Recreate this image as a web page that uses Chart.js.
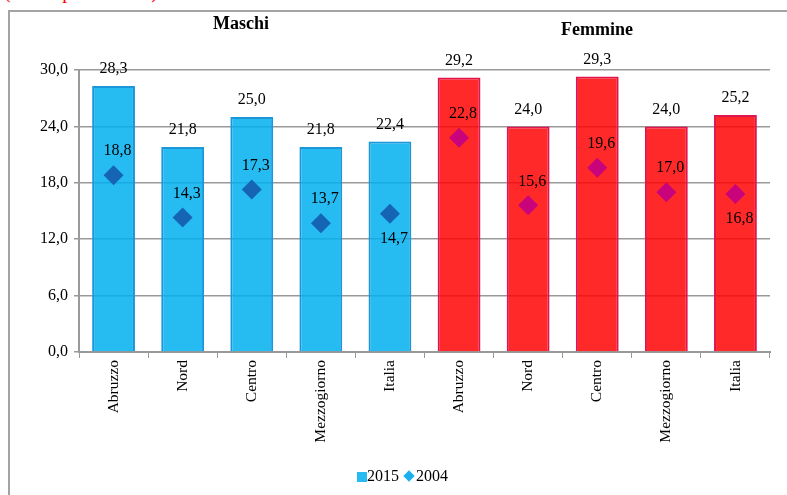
<!DOCTYPE html>
<html>
<head>
<meta charset="utf-8">
<script src="https://cdn.jsdelivr.net/npm/chart.js@4.4.1/dist/chart.umd.min.js"></script>
<style>
  html, body { margin: 0; padding: 0; background: #fff; overflow: hidden; }
  #wrap { position: relative; width: 787px; height: 495px; overflow: hidden; }
  #frame { position: absolute; left: 8px; top: 10px; width: 900px; height: 600px; border: 2px solid #a3a3a3; box-sizing: border-box; }
  #note { position: absolute; left: 4px; top: -20px; color: #f00; font: 20px "Liberation Serif", serif; white-space: nowrap; }
  canvas { position: absolute; left: 0; top: 0; }
  #legend { position: absolute; top: 467px; left: 357px; font: 16px "Liberation Serif", serif; color: #000; white-space: nowrap; }
  #legend span.sq { display: inline-block; width: 10px; height: 10px; background: #26bcf2; vertical-align: -1px; }
  #legend span.dm { display: inline-block; width: 8px; height: 8px; background: #1ab0ef; transform: rotate(45deg); margin: 0 3px 0 6px; vertical-align: 1px; }
</style>
</head>
<body>
<div id="wrap">
  <div id="note">(valori percentuali)</div>
  <div id="frame"></div>
  <canvas id="chart" width="787" height="495"></canvas>
  <div id="legend"><span class="sq"></span>2015<span class="dm"></span>2004</div>
</div>
<script>
//
// Data
//
const categories = ['Abruzzo', 'Nord', 'Centro', 'Mezzogiorno', 'Italia',
                    'Abruzzo', 'Nord', 'Centro', 'Mezzogiorno', 'Italia'];
const values2015 = [28.3, 21.8, 25.0, 21.8, 22.4, 29.2, 24.0, 29.3, 24.0, 25.2];
const values2004 = [18.8, 14.3, 17.3, 13.7, 14.7, 22.8, 15.6, 19.6, 17.0, 16.8];
const groupTitles = ['Maschi', 'Femmine'];
const yTicks = [0, 6, 12, 18, 24, 30];

const fmt = v => v.toFixed(1).replace('.', ',');
const serif = '"Liberation Serif", "Times New Roman", serif';

const barFill = categories.map((c, i) => i < 5 ? 'rgba(0,176,240,0.85)' : 'rgba(255,0,0,0.84)');
const barEdge = categories.map((c, i) => i < 5 ? '#1b97d9' : '#e0144e');
const dotFill = categories.map((c, i) => i < 5 ? '#1565b4' : '#c8037c');

// labels drawn above bars / next to diamonds, plus the two group titles
const labelPlugin = {
    id: 'labels',
    afterDatasetsDraw(chart) {
        const ctx = chart.ctx;
        ctx.save();
        ctx.fillStyle = '#000';
        ctx.font = '16px ' + serif;
        ctx.textAlign = 'center';
        ctx.textBaseline = 'middle';
        chart.getDatasetMeta(0).data.forEach((bar, i) => {
            ctx.fillText(fmt(values2015[i]), bar.x, bar.y - 17);
        });
        chart.getDatasetMeta(1).data.forEach((pt, i) => {
            const below = i === 4 || i === 9;
            ctx.fillText(fmt(values2004[i]), pt.x + 4, below ? pt.y + 25 : pt.y - 24);
        });
        ctx.font = 'bold 18px ' + serif;
        ctx.fillText(groupTitles[0], 241, 24);
        ctx.fillText(groupTitles[1], 597, 30);
        ctx.restore();
    }
};

const chartCanvas = document.getElementById('chart');

let chartData = {
    labels: categories,
    datasets: [{
        type: 'bar',
        label: '2015',
        data: values2015,
        backgroundColor: barFill,
        borderColor: barEdge,
        borderWidth: 2,
        barPercentage: 0.62,
        categoryPercentage: 1,
        order: 2
    }, {
        type: 'line',
        label: '2004',
        data: values2004,
        showLine: false,
        pointStyle: 'rectRot',
        pointRadius: 10,
        pointBackgroundColor: dotFill,
        pointBorderColor: dotFill,
        pointBorderWidth: 0,
        order: 1
    }]
};

let chartOptions = {
    responsive: false,
    animation: false,
    layout: {
        padding: { left: 0, right: 17, top: 70, bottom: 0 }
    },
    scales: {
        x: {
            offset: true,
            grid: {
                offset: true,
                drawOnChartArea: false,
                drawTicks: true,
                tickLength: 6,
                color: '#999'
            },
            border: { color: '#999', width: 2 },
            ticks: {
                minRotation: 90,
                maxRotation: 90,
                padding: 2,
                color: '#000',
                font: { family: serif, size: 15.5 }
            },
            afterFit(axis) { axis.height = 495 - 352; }
        },
        y: {
            min: 0,
            max: 30,
            afterBuildTicks(axis) { axis.ticks = yTicks.map(v => ({ value: v })); },
            grid: {
                color: '#999',
                lineWidth: 1.5,
                tickLength: 5
            },
            border: { color: '#999', width: 2 },
            ticks: {
                padding: 6,
                color: '#000',
                font: { family: serif, size: 16 },
                callback: v => fmt(v)
            },
            afterFit(axis) { axis.width = 79; }
        }
    },
    plugins: {
        legend: { display: false },
        tooltip: { enabled: false }
    }
};

let mainChart = new Chart(chartCanvas, {
    data: chartData,
    options: chartOptions,
    plugins: [labelPlugin]
});
</script>
</body>
</html>
